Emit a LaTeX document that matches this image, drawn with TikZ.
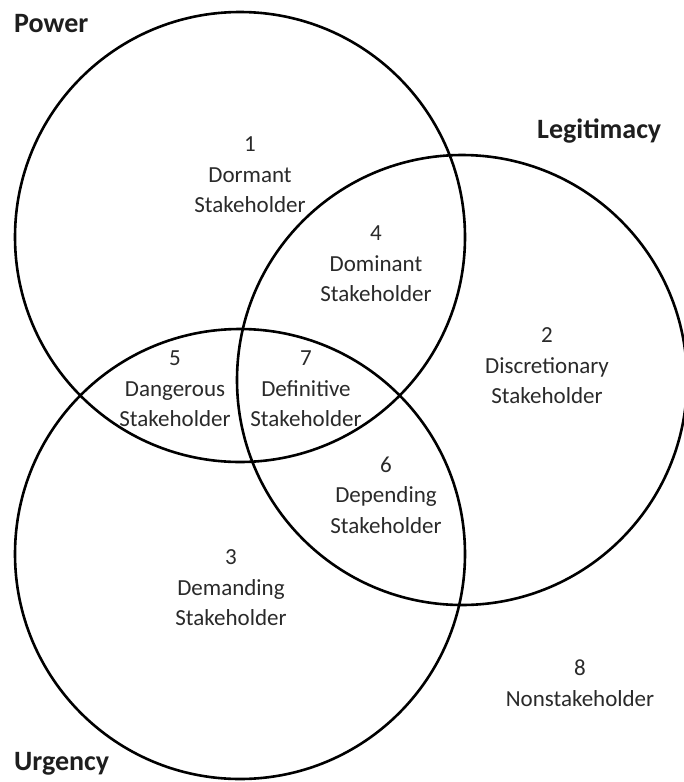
\documentclass[tikz,border=0pt]{standalone}
\usepackage{fontspec}
\setmainfont{Carlito}
\definecolor{labelgray}{HTML}{2A2A2A}
\definecolor{titlegray}{HTML}{1E1E1E}
\tikzset{
  setcircle/.style={draw=black, line width=2.6pt},
  region/.style={align=center, text=labelgray, font=\fontsize{23}{30.5}\selectfont, inner sep=0pt},
  title/.style={anchor=west, text=titlegray, font=\fontsize{28}{32}\selectfont\bfseries, inner sep=0pt}
}
\begin{document}
\begin{tikzpicture}[x=1pt, y=-1pt]
  \useasboundingbox (0,0) rectangle (683,782);
  \fill[white] (0,0) rectangle (683,782);

  % the three attribute sets
  \node[setcircle, circle, minimum size=450pt, inner sep=0pt] (power) at (240,237) {};
  \node[setcircle, circle, minimum size=450pt, inner sep=0pt] (legit) at (462,380) {};
  \node[setcircle, circle, minimum size=450pt, inner sep=0pt] (urgency) at (240,554) {};

  % set names
  \node[title] (tpower) at (14,24) {Power};
  \node[title] (tlegit) at (537,131) {Legitimacy};
  \node[title] (turgency) at (14,764) {Urgency};

  % stakeholder classes
  \node[region] (r1) at (250,175) {1\\Dormant\\Stakeholder};
  \node[region] (r4) at (376,264) {4\\Dominant\\Stakeholder};
  \node[region] (r2) at (547,366) {2\\Discretionary\\Stakeholder};
  \node[region] (r5) at (175,389) {5\\Dangerous\\Stakeholder};
  \node[region] (r7) at (306,389) {7\\Definitive\\Stakeholder};
  \node[region] (r6) at (386,495) {6\\Depending\\Stakeholder};
  \node[region] (r3) at (231,588) {3\\Demanding\\Stakeholder};
  \node[region] (r8) at (580,683) {8\\Nonstakeholder};
\end{tikzpicture}
\end{document}
